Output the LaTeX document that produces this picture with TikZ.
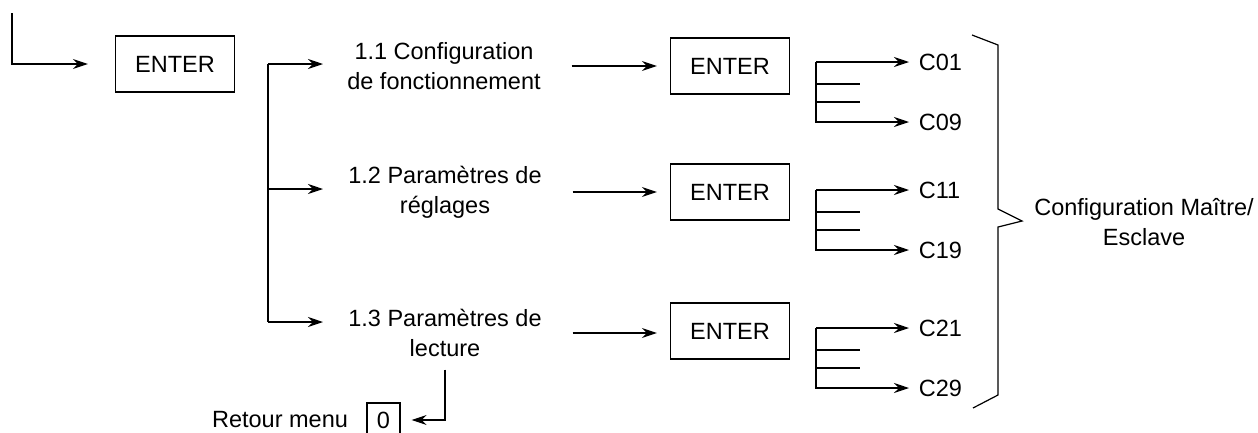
\documentclass[tikz,border=0pt]{standalone}
\usepackage{fontspec}
\setmainfont{Liberation Sans}
\usetikzlibrary{arrows.meta}
\begin{document}
\begin{tikzpicture}[x=1pt,y=-1pt,line width=1.2pt,
        >={Stealth[length=15pt,width=10pt,inset=5pt]},
        every node/.style={font=\fontsize{23.5}{30}\selectfont},
        box/.style={draw,minimum width=119pt,minimum height=56pt,inner sep=0pt}]
            \useasboundingbox (0,0) rectangle (1258,432);
            \draw (175,64) node[box](E0) {ENTER};
            \draw (444,66) node[align=center](T1) {1.1 Configuration\\de fonctionnement};
            \draw (445,192) node[align=center](T2) {1.2 Param\`etres de\\r\'eglages};
            \draw (445,333) node[align=center](T3) {1.3 Param\`etres de\\lecture};
            \draw (730,66) node[box](E1) {ENTER};
            \draw (730,192) node[box](E2) {ENTER};
            \draw (730,331) node[box](E3) {ENTER};
            \draw (1144,222) node[align=center](CM) {Configuration Ma\^itre/\\Esclave};
            \draw (280,420) node[](RM) {Retour menu};
            \draw (383.5,420) node[draw,minimum width=33pt,minimum height=34pt,inner sep=0pt](R0) {0};
            \draw[->,shorten >=27pt] (12,13) |- (E0.west);
            \draw (268,64) coordinate(k1) -- (268,322) coordinate(k3);
            \draw[->] (k1) -- ++(55,0);
            \draw[->] (268,189) -- ++(55,0);
            \draw[->] (k3) -- ++(55,0);
            \draw[->,shorten <=27pt,shorten >=13pt] (T1.east) -- (T1.east -| E1.west);
            \draw[->,shorten <=27pt,shorten >=13pt] (T2.east) -- (T2.east -| E2.west);
            \draw[->,shorten <=27pt,shorten >=13pt] (T3.east) -- (T3.east -| E3.west);
            \foreach \g/\t/\p/\q in {1/62/C01/C09, 2/190/C11/C19, 3/328/C21/C29}{
                \draw (915,\t) node[anchor=west](\p) {\p};
                \draw (915,\t+60) node[anchor=west](\q) {\q};
                \draw[->,shorten >=6pt] (816,\t) coordinate(s\g) -- (\p.west);
                \draw[->,shorten >=6pt] (s\g) |- (\q.west);
                \draw (s\g) ++(0,22) -- ++(44,0);
                \draw (s\g) ++(0,40) -- ++(44,0);
            }
            \draw (972,35) -- (998,45) -- (998,209) -- (1022,221) coordinate(tip) -- (998,227) -- (998,395) -- (973,408);
            \draw[->,shorten <=9pt,shorten >=11pt] (T3.south) |- (R0.east);
        \end{tikzpicture}
\end{document}
